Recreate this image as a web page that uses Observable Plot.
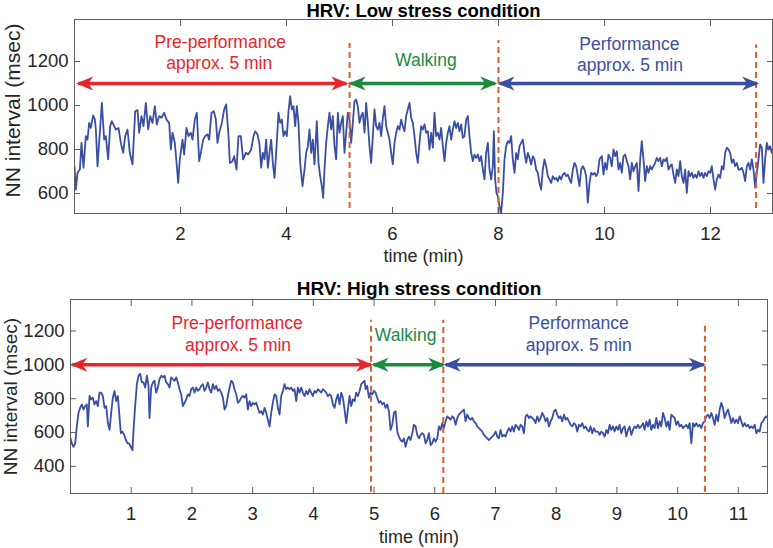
<!DOCTYPE html>
<html>
<head>
<meta charset="utf-8">
<script src="https://cdn.jsdelivr.net/npm/d3@7"></script>
<script src="https://cdn.jsdelivr.net/npm/@observablehq/plot@0.6"></script>
<style>
  html, body { margin: 0; padding: 0; background: #fff; }
  #chart svg { display: block; }
</style>
</head>
<body>
<div id="chart"></div>
<script>
// ---------- Low stress condition ----------
const lowTime = [0.00,0.025,0.057,0.101,0.132,0.170,0.214,0.245,0.277,0.308,0.352,0.384,0.403,0.434,0.465,0.516,0.560,0.591,0.635,0.673,0.704,0.748,0.780,0.830,0.874,0.918,0.956,1.000,1.044,1.094,1.145,1.189,1.220,1.264,1.302,1.346,1.390,1.428,1.472,1.516,1.553,1.597,1.642,1.692,1.736,1.786,1.818,1.849,1.893,1.931,1.956,1.987,2.038,2.069,2.113,2.151,2.195,2.226,2.270,2.308,2.352,2.384,2.428,2.465,2.509,2.541,2.585,2.629,2.667,2.698,2.730,2.780,2.824,2.862,2.906,2.931,2.981,3.013,3.057,3.094,3.138,3.182,3.233,3.277,
3.333,3.377,3.409,3.453,3.491,3.522,3.553,3.585,3.616,3.648,3.679,3.711,3.742,3.774,3.805,3.849,3.881,3.912,3.943,3.975,4.006,4.038,4.069,4.101,4.132,4.164,4.195,4.226,4.258,4.302,4.340,4.371,4.403,4.434,4.465,4.497,4.528,4.572,4.604,4.635,4.667,4.692,4.717,4.748,4.780,4.811,4.843,4.874,4.906,4.937,4.969,5.000,5.031,5.063,5.094,5.126,5.157,5.189,5.220,5.252,5.283,5.314,5.346,5.377,5.409,5.440,5.472,5.503,5.535,5.566,5.597,5.629,5.660,5.692,5.723,5.755,5.786,5.818,5.849,5.881,5.912,5.943,5.975,6.006,6.038,6.069,6.101,6.132,6.164,6.195,6.226,6.258,6.289,6.321,6.352,6.384,6.415,6.447,6.478,6.509,6.541,6.572,6.604,
6.635,6.667,6.698,6.730,6.761,6.792,6.824,6.855,6.887,6.918,6.950,6.981,7.013,7.044,7.075,7.107,7.138,7.170,7.201,7.233,7.264,7.296,7.327,7.358,7.390,7.421,7.453,7.484,7.516,7.547,7.579,7.610,7.642,7.673,7.704,7.736,7.767,7.799,7.830,7.862,7.893,7.912,7.937,7.962,7.987,8.019,8.050,8.082,8.113,8.145,8.176,8.208,8.239,8.270,8.302,8.333,8.365,8.396,8.428,8.459,8.491,8.522,8.553,8.585,8.616,8.648,8.679,8.711,8.742,8.774,8.805,8.836,8.868,8.899,8.931,8.962,8.994,9.025,9.057,9.088,9.119,9.151,9.182,9.214,9.245,9.277,9.308,9.340,9.371,9.403,9.434,9.465,9.497,9.528,9.560,9.591,9.623,9.654,9.686,9.717,9.748,9.780,9.811,9.843,9.874,9.906,
9.950,9.981,10.013,10.044,10.075,10.107,10.138,10.170,10.201,10.233,10.264,10.296,10.327,10.358,10.390,10.421,10.453,10.484,10.516,10.547,10.579,10.610,10.642,10.673,10.704,10.736,10.767,10.799,10.830,10.862,10.893,10.925,10.956,10.987,11.019,11.050,11.082,11.113,11.145,11.176,11.208,11.239,11.270,11.302,11.333,11.365,11.396,11.428,11.459,11.491,11.522,11.553,11.585,11.616,11.648,11.679,11.711,11.742,11.774,11.805,11.836,11.868,11.899,11.931,11.962,11.994,12.025,12.057,12.088,12.119,12.151,12.182,12.214,12.245,12.277,12.308,12.340,12.371,12.403,12.434,12.465,12.497,12.528,12.560,12.591,12.623,12.654,12.686,12.717,12.748,12.780,12.811,12.843,12.874,12.906,12.937,12.969,13.000,13.031,13.063,13.094,13.126,13.157];
const lowNN = [724,618,694,709,830,717,861,845,921,898,955,936,891,724,830,1012,845,861,755,906,929,906,891,898,830,785,861,891,785,732,974,979,876,952,906,1012,891,952,921,997,914,952,944,967,936,921,800,876,830,724,648,755,845,777,898,861,876,845,936,967,747,785,845,861,868,845,967,974,936,830,876,921,982,1005,861,739,747,770,709,861,861,755,785,777,
800,861,883,868,823,717,785,755,845,717,785,845,739,671,785,967,921,936,861,883,861,974,1042,982,997,906,997,921,739,633,709,785,815,891,785,845,732,929,739,679,633,580,709,830,906,967,891,952,815,755,967,876,921,952,785,876,967,936,830,921,1020,1027,997,921,952,967,876,1012,921,815,739,861,982,906,891,921,861,944,997,906,876,845,785,732,830,876,906,891,936,906,883,952,982,1012,944,921,861,785,739,830,906,891,914,
876,883,800,876,808,967,861,876,845,898,815,747,830,876,906,845,891,929,898,921,883,914,853,861,936,952,861,785,747,777,762,777,747,770,709,664,785,830,709,664,724,883,664,603,588,542,512,603,755,815,838,830,861,755,694,785,755,815,830,845,785,739,785,762,732,770,755,709,694,648,618,709,755,724,679,664,648,679,664,671,656,679,664,686,694,679,686,664,648,709,739,724,679,633,709,724,709,679,558,648,694,686,694,679,694,755,
770,686,739,709,777,762,724,800,770,792,709,739,694,770,777,747,724,664,739,701,724,739,611,755,838,755,656,724,694,724,709,724,739,762,747,762,724,755,747,762,709,724,732,686,648,709,679,747,679,648,709,603,701,679,694,671,686,671,701,679,694,671,694,679,701,694,724,664,618,664,686,671,724,709,785,808,800,785,739,755,724,739,709,709,717,694,656,724,739,709,755,709,626,694,755,823,808,648,755,830,800,815,785];
const lowXTicks = [2, 4, 6, 8, 10, 12];
const lowYTicks = [600, 800, 1000, 1200];
const lowBoundary = [5.19, 8.0, 12.86];
const lowBoundaryTop = [1282, 1295, 1275];
const lowBoundaryBottom = [532, 509, 532];
const lowArrowStart = [0.07, 5.21, 8.02];
const lowArrowEnd = [5.13, 7.94, 12.88];
const lowArrowLevel = [1100, 1100, 1100];
const lowLabelX = [2.75, 2.73, 6.63, 10.47, 10.48];
const lowLabelY = [1288, 1190, 1205, 1280, 1182];

// ---------- High stress condition ----------
const highTime = [0.000,0.022,0.049,0.077,0.104,0.132,0.159,0.187,0.214,0.242,0.269,0.286,0.313,0.340,0.368,0.395,0.423,0.450,0.478,0.505,0.533,0.560,0.588,0.615,0.643,0.670,0.697,0.725,0.752,0.780,0.802,0.829,0.857,0.884,0.912,0.939,0.966,0.994,1.021,1.038,1.065,1.093,1.120,1.148,1.175,1.203,1.230,1.258,1.285,1.301,1.329,1.356,1.384,1.411,1.439,1.466,1.494,1.521,1.549,1.576,1.604,1.631,1.658,1.686,1.713,1.741,1.768,1.796,1.823,1.851,1.878,1.906,1.933,1.960,1.988,2.015,2.043,2.070,2.098,2.125,2.153,2.180,2.208,2.235,2.262,2.290,2.317,2.345,2.372,2.400,2.427,2.455,2.482,2.510,2.537,2.565,2.592,2.620,2.647,2.674,2.702,2.729,2.757,2.784,2.812,2.839,2.867,2.894,
2.921,2.949,2.976,3.004,3.031,3.058,3.086,3.113,3.141,3.168,3.196,3.223,3.251,3.278,3.306,3.333,3.361,3.388,3.416,3.443,3.470,3.498,3.525,3.553,3.580,3.608,3.635,3.663,3.690,3.718,3.745,3.772,3.800,3.827,3.855,3.882,3.910,3.937,3.965,3.992,4.020,4.047,4.075,4.102,4.130,4.157,4.185,4.212,4.239,4.267,4.294,4.322,4.349,4.377,4.404,4.432,4.459,4.487,4.514,4.541,4.569,4.596,4.624,4.651,4.679,4.706,4.734,4.761,4.789,4.816,4.843,4.860,4.887,4.915,4.942,4.970,4.997,5.025,5.052,5.080,5.107,5.135,5.162,5.190,5.217,5.244,5.272,5.299,5.327,5.354,5.382,5.409,5.437,5.464,5.491,5.519,5.546,5.574,5.601,5.629,5.656,5.684,5.711,5.739,5.766,5.794,
5.821,5.849,5.876,5.903,5.931,5.958,5.986,6.013,6.041,6.068,6.096,6.123,6.151,6.178,6.205,6.233,6.260,6.288,6.315,6.343,6.370,6.397,6.425,6.452,6.480,6.507,6.535,6.562,6.590,6.617,6.645,6.672,6.699,6.727,6.754,6.782,6.809,6.837,6.864,6.892,6.919,6.947,6.974,7.002,7.029,7.056,7.084,7.111,7.139,7.166,7.194,7.221,7.249,7.276,7.303,7.331,7.358,7.386,7.413,7.441,7.468,7.496,7.523,7.551,7.578,7.606,7.633,7.660,7.688,7.715,7.743,7.770,7.798,7.825,7.853,7.880,7.908,7.935,7.963,7.990,8.017,8.045,8.072,8.100,8.127,8.155,8.182,8.210,8.237,8.265,8.292,8.320,8.347,8.374,8.402,8.429,8.457,8.484,8.512,8.539,8.566,8.594,8.621,8.649,
8.688,8.715,8.742,8.770,8.797,8.825,8.852,8.880,8.907,8.935,8.962,8.989,9.017,9.044,9.072,9.099,9.127,9.154,9.182,9.209,9.237,9.264,9.292,9.319,9.346,9.374,9.401,9.429,9.456,9.484,9.511,9.539,9.566,9.594,9.621,9.649,9.676,9.704,9.731,9.759,9.786,9.814,9.841,9.868,9.896,9.923,9.951,9.978,10.005,10.033,10.060,10.088,10.115,10.143,10.170,10.198,10.225,10.253,10.280,10.308,10.335,10.362,10.390,10.417,10.445,10.472,10.500,10.527,10.555,10.582,10.610,10.637,10.665,10.692,10.719,10.747,10.774,10.802,10.829,10.857,10.884,10.912,10.939,10.967,10.994,11.022,11.049,11.077,11.104,11.132,11.159,11.187,11.214,11.241,11.269,11.296,11.324,11.351,11.379,11.406,11.434,11.461,11.489];
const highNN = [566,536,516,536,636,716,746,766,736,756,766,636,816,796,806,766,786,756,836,836,816,746,756,656,616,716,806,846,786,816,716,596,606,586,556,536,536,516,496,616,756,886,936,946,896,896,866,936,876,686,866,896,906,836,866,916,936,926,936,896,886,866,926,916,906,926,896,856,826,756,776,796,826,816,856,866,836,866,846,856,876,886,846,866,896,856,836,886,856,876,846,856,836,806,736,756,816,866,906,896,856,826,776,786,806,816,806,826,
736,786,756,776,766,776,746,716,726,706,746,716,676,636,716,776,826,816,746,706,816,846,886,856,866,856,866,846,856,786,866,836,866,836,816,846,826,856,836,816,846,836,856,846,836,856,846,836,816,826,816,766,746,796,826,766,836,806,736,656,736,816,756,796,786,836,816,846,886,896,906,856,876,806,836,826,846,836,806,776,786,766,776,746,766,726,616,646,716,726,606,576,556,546,566,516,556,576,556,596,646,636,586,566,586,596,
586,536,556,596,526,536,566,546,566,636,616,656,626,666,696,686,676,696,686,646,686,706,716,726,736,666,706,686,676,686,666,656,636,626,616,606,586,576,566,556,566,576,586,606,576,566,616,576,586,576,606,626,606,636,606,646,636,616,646,636,596,696,706,686,696,686,676,656,696,666,686,716,696,666,686,636,666,686,726,736,706,686,696,666,706,676,686,666,646,636,656,646,606,646,636,656,626,636,616,606,636,596,626,606,
606,586,606,596,576,616,596,646,616,636,606,636,616,646,596,626,636,576,616,636,586,616,636,626,646,626,636,656,616,666,636,676,616,646,626,686,626,666,636,716,686,636,666,616,706,696,686,646,666,636,646,626,636,646,626,656,536,656,636,656,636,646,626,656,666,696,706,686,716,686,646,706,666,736,776,746,686,716,736,696,656,686,656,676,656,696,666,636,656,636,646,626,636,626,646,596,616,606,656,666,686,696,686];
const highXTicks = [1, 2, 3, 4, 5, 6, 7, 8, 9, 10, 11];
const highYTicks = [400, 600, 800, 1000, 1200];
const highBoundary = [4.95, 6.14, 10.45];
const highBoundaryTop = [1263, 1263, 1245];
const highBoundaryBottom = [247, 240, 247];
const highArrowStart = [0.03, 4.99, 6.18];
const highArrowEnd = [4.95, 6.14, 10.43];
const highArrowLevel = [1000, 1000, 1000];
const highLabelX = [2.745, 2.76, 5.52, 8.37, 8.37];
const highLabelY = [1244, 1115, 1175, 1247, 1115];

// ---------- shared text ----------
const phaseLabels = ["Pre-performance", "approx. 5 min", "Walking", "Performance", "approx. 5 min"];
const phaseLabelColorIndex = [0, 0, 1, 2, 2];
const phaseColors = ["#e5262c", "#1b8a3e", "#3a4fa3"];
const lineColor = "#3a4fa3";
const boundaryColor = "#d9602e";
const axisColor = "#5f5f5f";
const textColor = "#262626";
const FONT = "'Liberation Sans', Arial, Helvetica, sans-serif";
const intFormat = d3.format("d");

function arrowHead(color, context) {
  const doc = (context && context.document) || document;
  const ns = "http://www.w3.org/2000/svg";
  const m = doc.createElementNS(ns, "marker");
  m.setAttribute("viewBox", "-17 -8 20 16");
  m.setAttribute("markerWidth", 20);
  m.setAttribute("markerHeight", 16);
  m.setAttribute("refX", 0);
  m.setAttribute("refY", 0);
  m.setAttribute("markerUnits", "userSpaceOnUse");
  m.setAttribute("orient", "auto-start-reverse");
  const p = doc.createElementNS(ns, "path");
  p.setAttribute("d", "M2,0L-15,-7L-10,0L-15,7Z");
  p.setAttribute("fill", color);
  p.setAttribute("stroke", "none");
  m.appendChild(p);
  return m;
}

function panel(cfg) {
  const series = cfg.time.map((t, i) => ({t, v: cfg.nn[i]}));
  const bounds = cfg.boundary.map((x, i) => ({x, y1: cfg.boundaryBottom[i], y2: cfg.boundaryTop[i]}));
  const arrows = cfg.arrowStart.map((x1, i) => ({x1, x2: cfg.arrowEnd[i], y: cfg.arrowLevel[i], c: phaseColors[i]}));
  const labels = phaseLabels.map((s, i) => ({s, x: cfg.labelX[i], y: cfg.labelY[i], c: phaseColors[phaseLabelColorIndex[i]]}));
  return Plot.plot({
    width: 773,
    height: cfg.height,
    marginTop: cfg.mt, marginBottom: cfg.mb, marginLeft: cfg.ml, marginRight: cfg.mr,
    style: {fontFamily: FONT, fontSize: "18px", color: textColor, background: "#fff", overflow: "visible"},
    x: {domain: cfg.xDomain},
    y: {domain: cfg.yDomain},
    marks: [
      Plot.line(series, {x: "t", y: "v", stroke: lineColor, strokeWidth: 1.8, clip: true}),
      Plot.ruleX(bounds, {x: "x", y1: "y1", y2: "y2", stroke: boundaryColor, strokeWidth: 2, strokeDasharray: "6,4"}),
      Plot.link(arrows, {x1: "x1", x2: "x2", y1: "y", y2: "y", stroke: "c", strokeWidth: 3.5, markerStart: arrowHead, markerEnd: arrowHead}),
      Plot.text(labels, {x: "x", y: "y", text: "s", fill: "c", fontSize: 17.5, lineAnchor: "middle", textAnchor: "middle"}),
      Plot.frame({stroke: axisColor, strokeWidth: 1}),
      Plot.axisX({anchor: "bottom", ticks: cfg.xTicks, tickSize: -6, fill: "none", stroke: axisColor, label: null}),
      Plot.axisX({anchor: "top", ticks: cfg.xTicks, tickSize: -6, fill: "none", stroke: axisColor, label: null}),
      Plot.axisY({anchor: "left", ticks: cfg.yTicks, tickSize: -6, fill: "none", stroke: axisColor, label: null}),
      Plot.axisY({anchor: "right", ticks: cfg.yTicks, tickSize: -6, fill: "none", stroke: axisColor, label: null}),
      Plot.axisX({anchor: "bottom", ticks: cfg.xTicks, tickSize: 0, tickPadding: 13, tickFormat: intFormat, fontSize: 18.5, fill: textColor, label: null}),
      Plot.axisY({anchor: "left", ticks: cfg.yTicks, tickSize: 0, tickPadding: 6, tickFormat: intFormat, fontSize: 18.5, fill: textColor, label: null}),
      Plot.text([cfg.title], {frameAnchor: "top", dy: cfg.titleDy, fontSize: cfg.titleSize, fontWeight: "bold", fill: "#000", lineAnchor: "middle"}),
      Plot.text(["time (min)"], {frameAnchor: "bottom", dy: cfg.xlabDy, fontSize: 18, fill: textColor, lineAnchor: "middle"}),
      Plot.text(["NN interval (msec)"], {frameAnchor: "left", rotate: -90, dx: cfg.ylabDx, dy: cfg.ylabDy, fontSize: cfg.ylabSize, fill: textColor, lineAnchor: "middle", textAnchor: "middle"})
    ]
  });
}

const chart = document.getElementById("chart");
chart.appendChild(panel({
  time: lowTime, nn: lowNN, height: 274, mt: 19, mb: 61, ml: 74, mr: 1,
  xDomain: [0, 13.17], yDomain: [509, 1391], xTicks: lowXTicks, yTicks: lowYTicks,
  boundary: lowBoundary, boundaryTop: lowBoundaryTop, boundaryBottom: lowBoundaryBottom,
  arrowStart: lowArrowStart, arrowEnd: lowArrowEnd, arrowLevel: lowArrowLevel,
  labelX: lowLabelX, labelY: lowLabelY,
  title: "HRV: Low stress condition", titleDy: -8.5, titleSize: 18.5, xlabDy: 43, ylabDx: -61, ylabDy: -6, ylabSize: 21
}));
chart.appendChild(panel({
  time: highTime, nn: highNN, height: 274, mt: 25, mb: 55, ml: 70, mr: 6,
  xDomain: [0, 11.48], yDomain: [240, 1386], xTicks: highXTicks, yTicks: highYTicks,
  boundary: highBoundary, boundaryTop: highBoundaryTop, boundaryBottom: highBoundaryBottom,
  arrowStart: highArrowStart, arrowEnd: highArrowEnd, arrowLevel: highArrowLevel,
  labelX: highLabelX, labelY: highLabelY,
  title: "HRV: High stress condition", titleDy: -11, titleSize: 19, xlabDy: 44, ylabDx: -60, ylabDy: 0, ylabSize: 19
}));
</script>
</body>
</html>
